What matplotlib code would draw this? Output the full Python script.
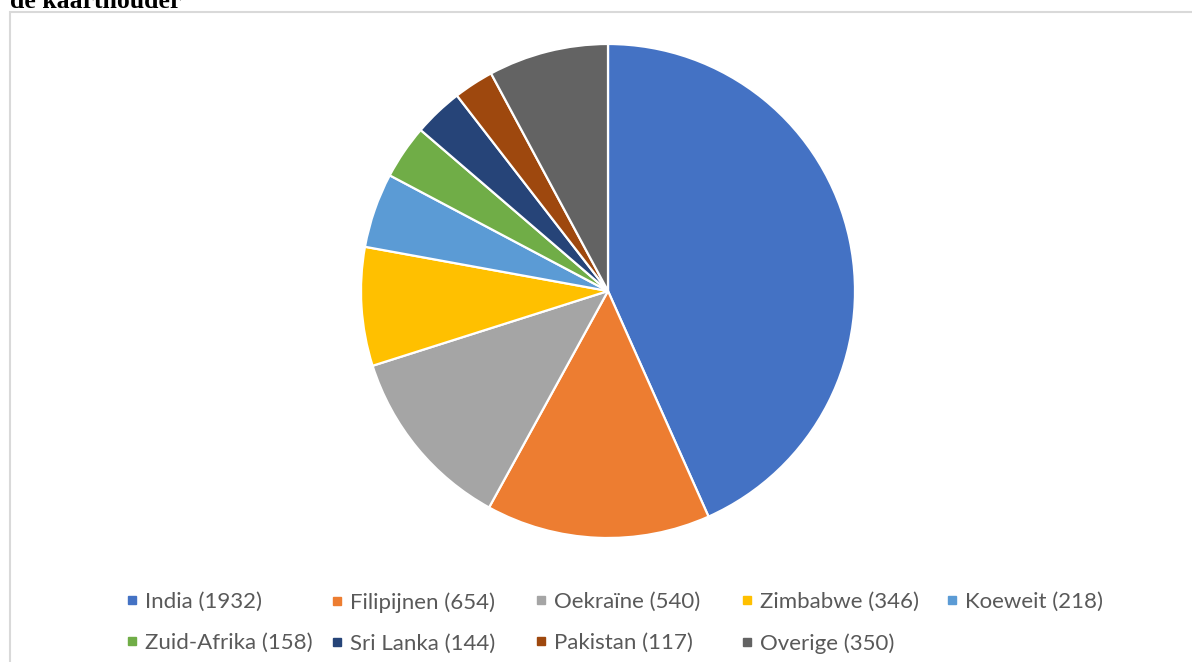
import matplotlib.pyplot as plt
from matplotlib.lines import Line2D
from matplotlib.patches import Rectangle

# data
countries = ['India', 'Filipijnen', 'Oekraïne', 'Zimbabwe', 'Koeweit',
             'Zuid-Afrika', 'Sri Lanka', 'Pakistan', 'Overige']
counts = [1932, 654, 540, 346, 218, 158, 144, 117, 350]
colors = ['#4472C4', '#ED7D31', '#A5A5A5', '#FFC000', '#5B9BD5',
          '#70AD47', '#264478', '#9E480E', '#636363']
labels = [f'{c} ({n})' for c, n in zip(countries, counts)]

W, H = 1192, 662
fig = plt.figure(figsize=(W / 100, H / 100), dpi=100)

# chart frame (cropped on right and bottom)
fig.patches.append(Rectangle((10 / W, -0.1), 1.2, 1 - 12 / H + 0.1,
                             transform=fig.transFigure, fill=False,
                             edgecolor='#d9d9d9', linewidth=1.5))

# title, cut off at the top like in the source
fig.text(10 / W, 1 - 8 / H, 'de kaarthouder', family='Liberation Serif',
         weight='bold', fontsize=18.5, va='baseline', ha='left')

# pie
cx, cy, r = 608, 291, 247
ax = fig.add_axes([(cx - r) / W, (H - cy - r) / H, 2 * r / W, 2 * r / H])
ax.pie(counts, colors=colors, startangle=90, counterclock=False, radius=1,
       wedgeprops=dict(edgecolor='white', linewidth=1.6))
ax.set_xlim(-1, 1)
ax.set_ylim(-1, 1)
ax.set_aspect('equal')
ax.axis('off')

# legend: equal-width columns like Excel
col_x = [126, 331, 535, 741, 946]
top_y = 592
ncol = 5
for c in range(ncol):
    idx = [i for i in range(len(labels)) if i % ncol == c]
    handles = [Line2D([], [], linestyle='none', marker='s', markersize=5.5,
                      color=colors[i]) for i in idx]
    leg = fig.legend(handles, [labels[i] for i in idx], loc='upper left',
                     bbox_to_anchor=(col_x[c] / W, 1 - top_y / H),
                     frameon=False, borderpad=0, borderaxespad=0,
                     handlelength=0.55, handletextpad=0.3, labelspacing=0.95,
                     prop={'family': 'Lato', 'size': 16})
    for t in leg.get_texts():
        t.set_color('#595959')

fig.savefig('out.png', dpi=100)
